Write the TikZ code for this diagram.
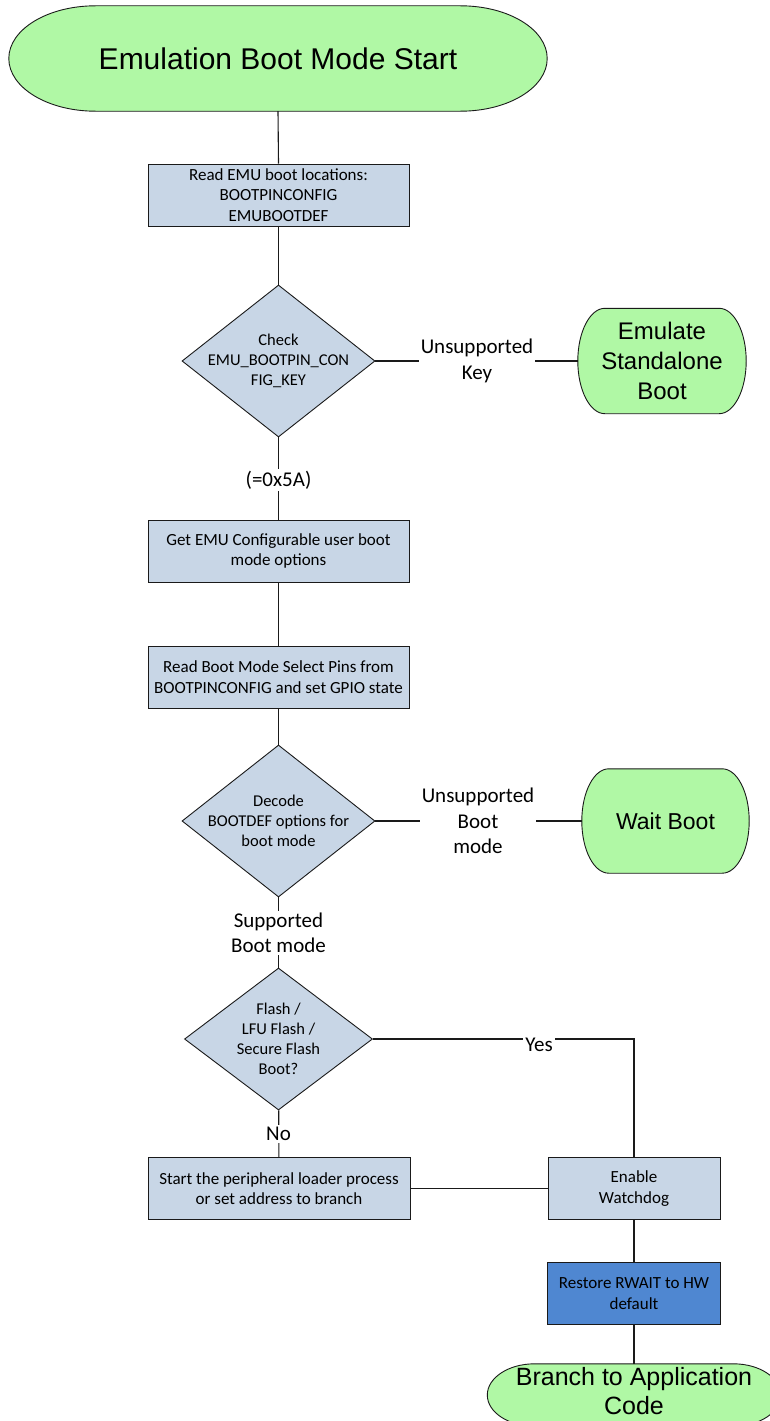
\documentclass[tikz,border=0pt]{standalone}
\usepackage{fontspec}
\setmainfont{Carlito}
\newfontfamily\arialfont{Liberation Sans}
\usetikzlibrary{shapes.geometric,calc,backgrounds}
\definecolor{termgreen}{HTML}{B0F8A5}
\definecolor{boxblue}{HTML}{C8D6E6}
\definecolor{darkblue}{HTML}{4F87D1}
\definecolor{edgecol}{HTML}{1A1A1A}
\newcommand{\termpath}[1]{%
  \path[termshape] let \p1=(#1.north west), \p2=(#1.south east),
    \n1={0.161*(\x2-\x1)}, \n2={(\y1-\y2)/2} in
    (\x1+\n1,\y1) -- (\x2-\n1,\y1)
    arc[start angle=90,end angle=-90,x radius=\n1,y radius=\n2]
    -- (\x1+\n1,\y2)
    arc[start angle=270,end angle=90,x radius=\n1,y radius=\n2] -- cycle;}
\tikzset{
  box/.style={draw=edgecol, fill=boxblue, line width=0.9pt, minimum height=62pt,
    inner sep=0pt, align=center, font=\fontsize{17}{20.5}\selectfont},
  dia/.style={diamond, draw=edgecol, fill=boxblue, line width=0.9pt, inner sep=0pt,
    minimum width=193pt, minimum height=152pt},
  dtext/.style={align=center, inner sep=0pt, font=\fontsize{16.5}{20}\selectfont},
  term/.style={inner sep=0pt, align=center},
  termshape/.style={draw=edgecol, fill=termgreen, line width=0.9pt},
  lbl/.style={fill=white, inner sep=2pt, align=center, font=\fontsize{21}{25.5}\selectfont},
  conn/.style={draw=edgecol, line width=1.1pt},
}
\begin{document}
\begin{tikzpicture}[x=1pt,y=-1pt]
\clip (0,0) rectangle (769,1421);
% nodes
\node[term, minimum width=538pt, minimum height=105pt, font=\arialfont\fontsize{30}{36}\selectfont] (start) at (278,58.5) {Emulation Boot Mode Start};
\node[box, minimum width=261pt] (b1) at (278.5,195) {Read EMU boot locations:\\BOOTPINCONFIG\\EMUBOOTDEF};
\node[dia] (d1) at (278.5,361) {};
\node[dtext] (d1t) at (d1.center) {Check\\EMU\_BOOTPIN\_CON\\FIG\_KEY};
\node[term, minimum width=168pt, minimum height=105pt, font=\arialfont\fontsize{24}{30}\selectfont] (emu) at (662,361) {Emulate\\Standalone\\Boot};
\node[box, minimum width=261pt] (b2) at (278.5,551) {Get EMU Configurable user boot\\mode options};
\node[box, minimum width=261pt] (b3) at (278.5,677) {Read Boot Mode Select Pins from\\BOOTPINCONFIG and set GPIO state};
\node[dia] (d2) at (278.5,821) {};
\node[dtext] (d2t) at (d2.center) {Decode\\BOOTDEF options for\\boot mode};
\node[term, minimum width=167pt, minimum height=104pt, font=\arialfont\fontsize{23}{28}\selectfont] (wait) at (665.5,821) {Wait Boot};
\node[dia, minimum width=188pt, minimum height=142pt] (d3) at (278.5,1039) {};
\node[dtext] (d3t) at (d3.center) {Flash /\\LFU Flash /\\Secure Flash\\Boot?};
\node[box, minimum width=262pt] (b4) at (279,1188.5) {Start the peripheral loader process\\or set address to branch};
\node[box, minimum width=172pt] (wd) at (634,1188.5) {Enable\\Watchdog};
\node[box, minimum width=173pt, fill=darkblue] (rw) at (634,1293.5) {Restore RWAIT to HW\\default};
\node[term, minimum width=293pt, minimum height=62pt] (br) at (634,1395) {};
\node[term, font=\arialfont\fontsize{25}{29}\selectfont] (brt) at (634,1391.5) {Branch to Application\\Code};
% terminator shapes
\begin{scope}[on background layer]
\fill[white] (0,0) rectangle (769,1421);
\termpath{start}
\termpath{emu}
\termpath{wait}
\termpath{br}
\end{scope}
% connectors
\draw[conn] (start.south) -- (b1.north);
\draw[conn] (b1) -- (d1);
\draw[conn] (d1) -- (emu);
\draw[conn] (d1) -- (b2);
\draw[conn] (b2) -- (b3);
\draw[conn] (b3) -- (d2);
\draw[conn] (d2) -- (wait);
\draw[conn] (d2) -- (d3);
\draw[conn] (d3.east) -| (wd.north);
\draw[conn] (d3) -- (b4);
\draw[conn] (b4) -- (wd);
\draw[conn] (wd) -- (rw);
\draw[conn] (rw) -- (br);
% labels
\node[lbl] (l1) at (477,361) {Unsupported\\Key};
\node[lbl] (l2) at (278.5,480) {(=0x5A)};
\node[lbl] (l3) at (478,821) {Unsupported\\Boot\\mode};
\node[lbl] (l4) at (278.5,933) {Supported\\Boot mode};
\node[lbl] (l5) at (539,1045) {Yes};
\node[lbl] (l6) at (278.5,1134) {No};
\end{tikzpicture}
\end{document}
